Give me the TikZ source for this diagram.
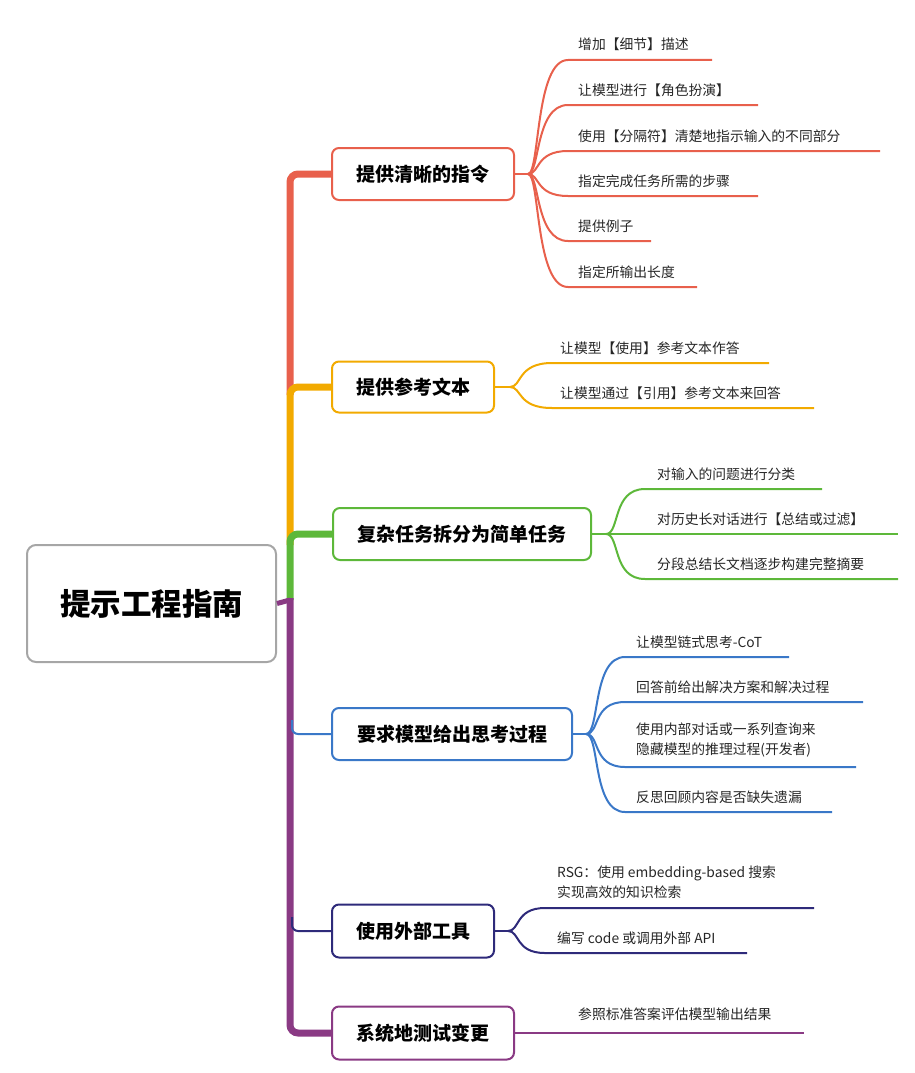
\documentclass[tikz,border=0pt]{standalone}
\usepackage{fontspec}
\setmainfont{Noto Sans CJK SC}
\definecolor{cR}{HTML}{E8604C}
\definecolor{cO}{HTML}{F2AA00}
\definecolor{cG}{HTML}{5DB83A}
\definecolor{cB}{HTML}{3A78C8}
\definecolor{cN}{HTML}{2E2A7A}
\definecolor{cP}{HTML}{8A3A84}
\begin{document}
\begin{tikzpicture}[x=1pt,y=-1pt,
  box/.style={draw=#1,line width=2pt,rounded corners=7pt,fill=white,inner sep=0pt,font=\fontsize{19}{22}\selectfont\bfseries},
  leaf/.style={anchor=base west,inner sep=0pt,font=\fontsize{13.8}{17}\selectfont,text=black!85},
  trunk/.style={draw=#1,line width=7pt,rounded corners=8pt},
  br/.style={draw=#1,line width=2pt}]
\useasboundingbox (0,0) rectangle (915,1073);
% root
\node[draw=gray!70,line width=2pt,rounded corners=9pt,minimum width=249pt,minimum height=117pt,font=\fontsize{30.5}{34}\selectfont\bfseries] (root) at (151.5,603.5) {提示工程指南};
% branch boxes
\node[box=cR,minimum width=182pt,minimum height=52pt] (b1) at (423,174) {提供清晰的指令};
\node[box=cO,minimum width=162pt,minimum height=51pt] (b2) at (413,387) {提供参考文本};
\node[box=cG,minimum width=258pt,minimum height=52pt] (b3) at (462,534) {复杂任务拆分为简单任务};
\node[box=cB,minimum width=240pt,minimum height=52pt] (b4) at (452,734) {要求模型给出思考过程};
\node[box=cN,minimum width=162pt,minimum height=53pt] (b5) at (413,931) {使用外部工具};
\node[box=cP,minimum width=182pt,minimum height=53pt] (b6) at (423,1033) {系统地测试变更};
% trunk
\coordinate (t1) at (290,174);
\coordinate (t2) at (290,387);
\coordinate (t3) at (290,534);
\coordinate (t4) at (290,600);
\coordinate (t6) at (290,1033);
\draw[trunk=cR] (b1.west) -- (t1) -- (290,395);
\draw[trunk=cO] (b2.west) -- (t2) -- (290,545);
\draw[trunk=cG] (b3.west) -- (t3) -- (290,600);
\draw[trunk=cP] (290,598) -- (t6) -- (b6.west);
\draw[cP,line width=5pt] (root.east) -- (t4);
\draw[br=cB,rounded corners=6pt] (b4.west) -- (292,734) -- (292,720);
\draw[br=cN,rounded corners=6pt] (b5.west) -- (292,931) -- (292,917);
% branch 1 leaves
\coordinate (f1) at (528,174);
\draw[br=cR] (b1.east) -- (f1);
\foreach \y/\e/\t in {60/712/增加【细节】描述,105/758/让模型进行【角色扮演】,151/880/使用【分隔符】清楚地指示输入的不同部分,196/758/指定完成任务所需的步骤,241/651/提供例子,287/697/指定所输出长度}{
  \coordinate (e) at (\e,\y);
  \draw[br=cR] (f1) .. controls (540,174) and (535,\y) .. (568,\y) -- (e);
  \node[leaf] at (578,\y-10) {\t};
}
% branch 2
\coordinate (f2) at (510,387);
\draw[br=cO] (b2.east) -- (f2);
\foreach \y/\e/\t in {363/769/让模型【使用】参考文本作答,408/814/让模型通过【引用】参考文本来回答}{
  \coordinate (e) at (\e,\y);
  \draw[br=cO] (f2) .. controls (522,387) and (517,\y) .. (552,\y) -- (e);
  \node[leaf] at (560,\y-10) {\t};
}
% branch 3
\coordinate (f3) at (606,534);
\draw[br=cG] (b3.east) -- (f3);
\foreach \y/\e/\t in {489/822/对输入的问题进行分类,534/898/对历史长对话进行【总结或过滤】,579/898/分段总结长文档逐步构建完整摘要}{
  \coordinate (e) at (\e,\y);
  \draw[br=cG] (f3) .. controls (620,534) and (612,\y) .. (645,\y) -- (e);
  \node[leaf] at (657,\y-10) {\t};
}
% branch 4
\coordinate (f4) at (586,734);
\draw[br=cB] (b4.east) -- (f4);
\foreach \y/\e in {657/789,702/863,767/856,812/832}{
  \coordinate (e) at (\e,\y);
  \draw[br=cB] (f4) .. controls (600,734) and (592,\y) .. (625,\y) -- (e);
}
\node[leaf] at (636,647) {让模型链式思考-CoT};
\node[leaf] at (636,692) {回答前给出解决方案和解决过程};
\node[leaf] at (636,734) {使用内部对话或一系列查询来};
\node[leaf] at (636,754) {隐藏模型的推理过程(开发者)};
\node[leaf] at (636,802) {反思回顾内容是否缺失遗漏};
% branch 5
\coordinate (f5) at (508,931);
\draw[br=cN] (b5.east) -- (f5);
\foreach \y/\e in {908/814,953/747}{
  \coordinate (e) at (\e,\y);
  \draw[br=cN] (f5) .. controls (520,931) and (515,\y) .. (545,\y) -- (e);
}
\node[leaf] at (557,877) {RSG：使用 embedding-based 搜索};
\node[leaf] at (557,897) {实现高效的知识检索};
\node[leaf] at (557,943) {编写 code 或调用外部 API};
% branch 6
\coordinate (e6) at (804,1033);
\draw[br=cP] (b6.east) -- (e6);
\node[leaf] at (578,1019) {参照标准答案评估模型输出结果};
\end{tikzpicture}
\end{document}
